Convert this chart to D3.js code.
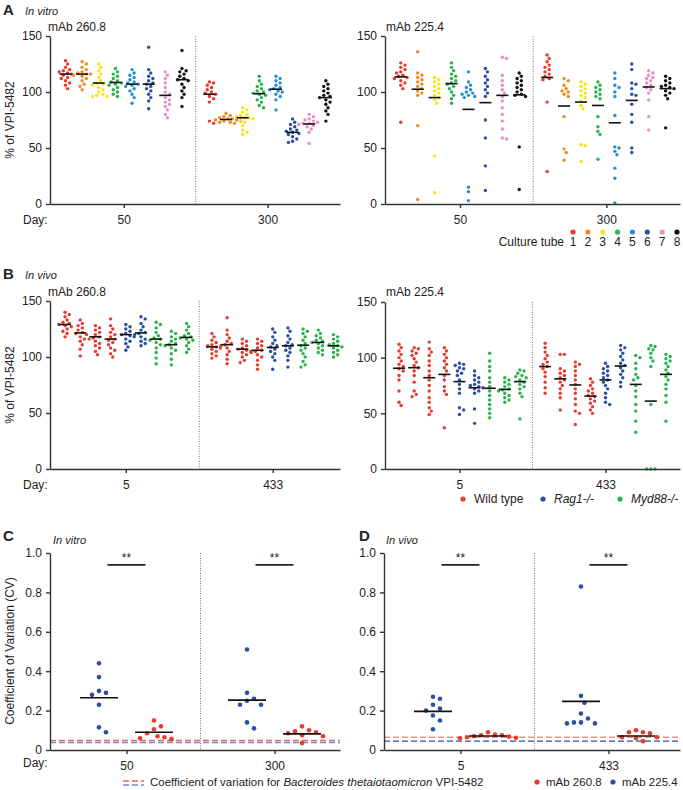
<!DOCTYPE html>
<html>
<head>
<meta charset="utf-8">
<script src="https://cdn.jsdelivr.net/npm/d3@7"></script>
<style>
  body { margin: 0; background: #fff; }
  svg { display: block; font-family: "Liberation Sans", Arial, sans-serif; }
  .tick text { font-size: 12px; fill: #222; }
  .domain, .tick line { stroke: #333; stroke-width: 1.4; }
</style>
</head>
<body>
<script>
// ---- colours ----
const tubeColors = ["#e63b2e", "#f08a24", "#f4e41c", "#2bb34b", "#2390d5", "#2d4fa0", "#e88fc6", "#111111"];
const genotypeColors = ["#e63b2e", "#e63b2e", "#e63b2e", "#e63b2e", "#2d4fa0", "#2d4fa0", "#2bb34b", "#2bb34b", "#2bb34b"];

// ---- A: in vitro, culture tubes 1-8 at day 50 then day 300 ----
const daysA = ["50", "300"];
const tubeLabels = ["1", "2", "3", "4", "5", "6", "7", "8"];
const vitro2608 = [
  [128, 125, 122, 120, 119, 118, 117, 116, 115, 113, 112, 110, 108, 106, 103],
  [127, 125, 122, 120, 118, 117, 116, 116, 115, 114, 112, 110, 107, 105, 102],
  [125, 122, 119, 116, 113, 110, 108, 107, 106, 104, 102, 100, 98, 97, 96, 96],
  [121, 118, 116, 114, 112, 110, 109, 108, 107, 106, 104, 102, 100, 98, 96],
  [120, 117, 115, 113, 111, 109, 108, 107, 106, 105, 103, 101, 98, 95, 90],
  [140, 120, 117, 114, 112, 110, 108, 107, 105, 103, 101, 98, 95, 92, 85],
  [118, 115, 112, 108, 104, 100, 98, 95, 93, 91, 89, 87, 84, 80, 77],
  [137, 121, 119, 118, 116, 114, 112, 111, 110, 107, 104, 101, 98, 95, 87],
  [109, 108, 106, 104, 102, 100, 99, 98, 96, 94, 91, 74, 72],
  [81, 79, 78, 77, 76, 76, 75, 75, 74, 74, 73, 73, 72],
  [86, 84, 82, 80, 79, 78, 77, 77, 76, 75, 73, 70, 66, 64, 62],
  [114, 110, 107, 105, 103, 101, 100, 99, 98, 97, 95, 93, 91, 88, 86],
  [114, 112, 110, 108, 106, 104, 103, 102, 101, 100, 98, 96, 93, 84],
  [76, 73, 71, 69, 67, 66, 65, 64, 63, 62, 60, 58, 56, 55],
  [80, 78, 76, 75, 74, 73, 72, 72, 71, 70, 69, 67, 64, 54],
  [110, 107, 105, 103, 101, 99, 97, 96, 95, 93, 91, 89, 86, 83, 80, 74]
];
const vitro2608Mid = [116, 116, 108, 108.5, 107, 107, 97, 111, 98, 75.5, 77, 98.5, 102.5, 64, 71.5, 95];
const vitro2254 = [
  [126, 124, 122, 120, 118, 117, 115, 114, 113, 112, 110, 108, 106, 103, 73],
  [136, 117, 115, 113, 111, 109, 107, 105, 103, 101, 99, 97, 70, 4],
  [113, 111, 109, 107, 105, 103, 101, 99, 97, 95, 93, 90, 43, 10],
  [126, 122, 119, 116, 114, 112, 110, 108, 107, 105, 103, 100, 97, 94, 90],
  [118, 109, 106, 104, 102, 100, 99, 98, 97, 96, 95, 15, 11, 3],
  [121, 118, 114, 111, 108, 105, 102, 99, 96, 75, 59, 34, 12],
  [131, 130, 115, 110, 106, 102, 99, 96, 92, 86, 80, 74, 67, 59, 58],
  [117, 114, 112, 110, 108, 106, 104, 102, 100, 98, 97, 96, 51, 13],
  [133, 130, 127, 124, 122, 120, 118, 116, 114, 112, 111, 91, 29],
  [112, 110, 106, 103, 101, 100, 98, 96, 78, 49, 46, 39],
  [109, 107, 105, 103, 101, 99, 97, 95, 92, 88, 85, 53, 52, 38],
  [109, 106, 104, 102, 100, 98, 96, 94, 78, 69, 65, 62, 40],
  [117, 112, 106, 104, 100, 96, 79, 51, 50, 47, 44, 32, 23, 1],
  [125, 120, 108, 107, 103, 98, 97, 89, 80, 73, 50, 46],
  [119, 117, 115, 113, 112, 110, 108, 106, 104, 102, 99, 93, 78, 66],
  [114, 112, 110, 108, 106, 105, 104, 103, 101, 99, 97, 94, 68]
];
const vitro2254Mid = [113.5, 102.5, 95, 107.5, 84.5, 90.5, 97, 97.5, 113, 87.5, 91, 88, 72.5, 92.5, 104.5, 103];

// ---- B: in vivo, 4 wild type, 2 Rag1-/-, 3 Myd88-/- mice at day 5 then day 433 ----
const daysB = ["5", "433"];
const vivo2608 = [
  [140, 138, 136, 133, 131, 130, 129, 128, 127, 125, 123, 121, 118],
  [133, 130, 128, 126, 124, 122, 121, 120, 118, 116, 114, 111, 107, 101],
  [128, 126, 124, 122, 120, 118, 117, 116, 114, 112, 110, 108, 105, 102],
  [134, 128, 125, 122, 120, 118, 116, 115, 113, 111, 108, 106, 103, 100],
  [129, 127, 125, 123, 121, 120, 119, 118, 116, 114, 112, 109, 106],
  [136, 134, 130, 127, 124, 122, 121, 120, 118, 116, 114, 112, 110],
  [131, 129, 126, 122, 119, 117, 116, 115, 113, 111, 108, 104, 99, 94],
  [123, 121, 118, 116, 114, 112, 111, 110, 108, 106, 103, 98, 93],
  [130, 127, 124, 121, 119, 118, 117, 116, 115, 113, 110, 107, 104],
  [121, 118, 115, 113, 111, 110, 109, 108, 107, 105, 103, 101, 99],
  [135, 124, 120, 117, 114, 112, 111, 110, 108, 105, 102, 98, 94],
  [116, 114, 112, 110, 108, 107, 106, 105, 104, 102, 100, 97, 95],
  [116, 114, 112, 110, 108, 106, 105, 104, 102, 100, 97, 93, 89],
  [125, 122, 118, 115, 112, 110, 109, 107, 105, 103, 100, 97, 89],
  [126, 123, 119, 116, 113, 111, 110, 108, 106, 104, 101, 97, 91],
  [125, 123, 121, 118, 115, 112, 110, 108, 106, 103, 100, 96, 93, 91],
  [124, 121, 119, 117, 115, 114, 113, 112, 110, 108, 106, 104, 102],
  [120, 118, 116, 114, 112, 111, 110, 109, 108, 106, 104, 102, 100]
];
const vivo2608Mid = [129, 121.5, 118, 116, 120, 121.5, 116, 111, 117.5, 109, 111, 107, 106, 108.5, 110, 110.5, 113, 110];
const vivo2254 = [
  [112, 109, 106, 103, 100, 97, 94, 92, 90, 88, 84, 80, 70, 60, 57],
  [109, 108, 106, 104, 102, 99, 96, 93, 91, 88, 84, 78, 70, 67, 65],
  [114, 108, 105, 102, 97, 93, 88, 84, 80, 75, 70, 64, 60, 55, 52, 49],
  [109, 106, 103, 100, 97, 94, 91, 88, 84, 80, 74, 70, 67, 37],
  [95, 94, 93, 91, 90, 88, 86, 84, 80, 76, 72, 68, 55, 53, 49],
  [88, 84, 82, 80, 78, 76, 75, 74, 73, 72, 70, 68, 54, 41],
  [104, 97, 92, 88, 82, 78, 74, 70, 66, 62, 58, 54, 50, 46],
  [82, 80, 78, 76, 74, 72, 71, 70, 68, 66, 64, 62, 60],
  [89, 88, 86, 84, 83, 82, 80, 78, 76, 74, 72, 68, 65, 45],
  [113, 109, 105, 102, 99, 96, 94, 92, 90, 87, 83, 78, 73, 68],
  [103, 103, 90, 88, 86, 84, 82, 80, 78, 75, 72, 68, 64, 53],
  [96, 94, 92, 88, 84, 80, 76, 72, 68, 63, 58, 52, 50, 40],
  [81, 78, 75, 72, 70, 68, 66, 65, 63, 61, 59, 56, 53, 50],
  [95, 92, 90, 88, 86, 84, 82, 80, 78, 75, 72, 68, 64, 60, 58],
  [111, 109, 107, 104, 101, 98, 95, 93, 91, 88, 85, 82, 78, 74],
  [102, 100, 95, 90, 85, 82, 80, 75, 70, 65, 58, 52, 43, 33],
  [111, 110, 108, 107, 104, 100, 97, 92, 58, 0, 0, 0],
  [103, 101, 99, 97, 95, 92, 89, 86, 83, 80, 76, 72, 66, 60, 43]
];
const vivo2254Mid = [90.5, 91, 82, 85, 78.5, 73, 72.5, 71.5, 78.5, 92, 81, 75.5, 65.5, 80, 92.5, 76, 61, 85];

// ---- C / D: coefficient of variation, mAb 225.4 then mAb 260.8 per day ----
const cvVitro = [
  [0.44, 0.37, 0.30, 0.29, 0.28, 0.23, 0.115, 0.09],
  [0.15, 0.12, 0.105, 0.085, 0.07, 0.065, 0.06, 0.055],
  [0.51, 0.29, 0.26, 0.25, 0.23, 0.23, 0.14, 0.11],
  [0.12, 0.10, 0.095, 0.09, 0.085, 0.075, 0.07, 0.035]
];
const cvVitroMid = [0.265, 0.09, 0.253, 0.082];
const cvVivo = [
  [0.27, 0.26, 0.23, 0.21, 0.20, 0.175, 0.15, 0.105],
  [0.09, 0.078, 0.075, 0.075, 0.07, 0.068, 0.065, 0.062, 0.06],
  [0.83, 0.275, 0.24, 0.185, 0.16, 0.14, 0.14, 0.135, 0.135],
  [0.10, 0.09, 0.09, 0.085, 0.065, 0.065, 0.06, 0.045]
];
const cvVivoMid = [0.196, 0.071, 0.247, 0.071];
const cvColors = ["#2d4fa0", "#e63b2e", "#2d4fa0", "#e63b2e"];
const cvVitroRef = [0.048, 0.038];   // mAb 260.8, mAb 225.4
const cvVivoRef = [0.065, 0.045];
const cvTicks = [0, 0.2, 0.4, 0.6, 0.8, 1.0];

const svg = d3.select("body").append("svg").attr("width", 683).attr("height", 790);

// simple beeswarm: returns horizontal offsets in the order of the values
function swarm(values, y, minDist, step) {
  const order = d3.range(values.length).sort((a, b) => values[b] - values[a]);
  const placed = [];
  const off = [];
  order.forEach(i => {
    const yi = y(values[i]);
    for (let k = 0; k < 60; k++) {
      const dx = (k % 2 ? 1 : -1) * Math.ceil(k / 2) * step;
      if (placed.every(p => Math.hypot(p.dx - dx, p.y - yi) >= minDist)) {
        off[i] = dx;
        placed.push({dx: dx, y: yi});
        break;
      }
    }
  });
  return off;
}

function dotPanel(cfg) {
  const g = svg.append("g");
  const x = d3.scaleLinear().domain(cfg.xDomain).range([cfg.x0, cfg.x1]);
  const y = d3.scaleLinear().domain(cfg.yDomain).range([cfg.yBottom, cfg.yTop]);
  const pos = i => (i % cfg.perDay) + Math.floor(i / cfg.perDay) * cfg.dayOffset;
  const dayCenters = cfg.days.map((d, k) => (cfg.perDay - 1) / 2 + k * cfg.dayOffset);

  // divider between days
  const divX = x((cfg.perDay - 1 + cfg.dayOffset) / 2);
  g.append("line")
    .attr("x1", divX).attr("x2", divX)
    .attr("y1", cfg.yTop).attr("y2", cfg.yBottom)
    .attr("stroke", "#777").attr("stroke-width", 1)
    .style("stroke-dasharray", "1,1.5");

  // reference dashed lines (CV panels)
  (cfg.refs || []).forEach(r => {
    g.append("line")
      .attr("x1", cfg.x0).attr("x2", cfg.x1)
      .attr("y1", y(r.value)).attr("y2", y(r.value))
      .attr("stroke", r.color).attr("stroke-width", 1.4)
      .style("stroke-dasharray", "6,3");
  });

  cfg.groups.forEach((vals, i) => {
    const cx = x(pos(i));
    const off = swarm(vals, y, cfg.minDist, cfg.step);
    g.append("g").selectAll("circle")
      .data(vals)
      .enter()
      .append("circle")
      .attr("cx", (d, j) => cx + off[j])
      .attr("cy", d => y(d))
      .attr("r", cfg.r)
      .attr("fill", cfg.colors[i]);
    g.append("line")
      .attr("x1", cx - cfg.meanHalf).attr("x2", cx + cfg.meanHalf)
      .attr("y1", y(cfg.mids[i])).attr("y2", y(cfg.mids[i]))
      .attr("stroke", "#111").attr("stroke-width", 1.6);
  });

  // significance bars
  if (cfg.stars) {
    dayCenters.forEach(c => {
      const bx = x(c);
      g.append("line")
        .attr("x1", bx - 19).attr("x2", bx + 19)
        .attr("y1", y(0.94)).attr("y2", y(0.94))
        .attr("stroke", "#222").attr("stroke-width", 1.8);
      g.append("text")
        .attr("x", bx).attr("y", y(0.94) - 3)
        .attr("text-anchor", "middle")
        .style("font-size", "12px").attr("fill", "#222")
        .text("**");
    });
  }

  g.append("g")
    .attr("transform", "translate(" + cfg.x0 + ",0)")
    .call(d3.axisLeft(y).tickValues(cfg.yTicks).tickFormat(cfg.yFormat).tickSize(4).tickSizeOuter(0))
    .call(a => a.selectAll(".tick text").attr("dx", "-1"));

  g.append("g")
    .attr("transform", "translate(0," + cfg.yBottom + ")")
    .call(d3.axisBottom(x).tickValues(dayCenters).tickFormat((d, k) => cfg.days[k]).tickSize(4).tickSizeOuter(0))
    .call(a => a.selectAll(".tick text").attr("dy", "1.05em"));
}

function text(x, y, str, opts) {
  opts = opts || {};
  const t = svg.append("text")
    .attr("x", x).attr("y", y)
    .attr("fill", "#222")
    .style("font-size", (opts.size || 12) + "px")
    .text(str);
  if (opts.bold) t.attr("font-weight", "bold");
  if (opts.italic) t.attr("font-style", "italic");
  if (opts.anchor) t.attr("text-anchor", opts.anchor);
  if (opts.rotate) t.attr("transform", "rotate(-90," + x + "," + y + ")");
  return t;
}

const fmtPct = d => d;
const fmtCv = d => d === 0 ? "0" : d3.format(".1f")(d);

// ---- panel A ----
dotPanel({x0: 50, x1: 340, yTop: 36, yBottom: 204, xDomain: [-0.93, 16.5], yDomain: [0, 150],
  yTicks: [0, 50, 100, 150], yFormat: fmtPct, perDay: 8, dayOffset: 8.65, days: daysA,
  groups: vitro2608, mids: vitro2608Mid, colors: tubeColors.concat(tubeColors),
  r: 1.7, minDist: 3.8, step: 2.1, meanHalf: 6});
dotPanel({x0: 385, x1: 680, yTop: 36, yBottom: 204, xDomain: [-0.93, 16.5], yDomain: [0, 150],
  yTicks: [0, 50, 100, 150], yFormat: fmtPct, perDay: 8, dayOffset: 8.65, days: daysA,
  groups: vitro2254, mids: vitro2254Mid, colors: tubeColors.concat(tubeColors),
  r: 1.7, minDist: 3.8, step: 2.1, meanHalf: 6});

text(3, 15, "A", {size: 15, bold: true});
text(25, 15, "In vitro", {size: 11, italic: true});
text(48, 31, "mAb 260.8");
text(386, 31, "mAb 225.4");
text(14, 120, "% of VPI-5482", {rotate: true, anchor: "middle"});
text(23, 224, "Day:");

// culture tube legend
const tubeX = d3.scalePoint().domain(tubeLabels).range([573, 677]);
svg.append("g").selectAll("circle").data(tubeLabels).enter().append("circle")
  .attr("cx", d => tubeX(d)).attr("cy", 232).attr("r", 2.6)
  .attr("fill", (d, i) => tubeColors[i]);
svg.append("g").selectAll("text").data(tubeLabels).enter().append("text")
  .attr("x", d => tubeX(d)).attr("y", 246).attr("text-anchor", "middle")
  .style("font-size", "12px").attr("fill", "#222").text(d => d);
text(564, 246, "Culture tube", {anchor: "end"});

// ---- panel B ----
dotPanel({x0: 50, x1: 340, yTop: 301, yBottom: 469, xDomain: [-0.99, 18.1], yDomain: [0, 150],
  yTicks: [0, 50, 100, 150], yFormat: fmtPct, perDay: 9, dayOffset: 9.67, days: daysB,
  groups: vivo2608, mids: vivo2608Mid, colors: genotypeColors.concat(genotypeColors),
  r: 1.7, minDist: 3.8, step: 2.1, meanHalf: 6});
dotPanel({x0: 385, x1: 680, yTop: 302, yBottom: 469, xDomain: [-0.93, 18.6], yDomain: [0, 150],
  yTicks: [0, 50, 100, 150], yFormat: fmtPct, perDay: 9, dayOffset: 9.67, days: daysB,
  groups: vivo2254, mids: vivo2254Mid, colors: genotypeColors.concat(genotypeColors),
  r: 1.7, minDist: 3.8, step: 2.1, meanHalf: 6});

text(3, 279, "B", {size: 15, bold: true});
text(25, 279, "In vivo", {size: 11, italic: true});
text(48, 296, "mAb 260.8");
text(386, 296, "mAb 225.4");
text(14, 385, "% of VPI-5482", {rotate: true, anchor: "middle"});
text(23, 489, "Day:");

// genotype legend
const genoLegend = [
  {label: "Wild type", color: "#e63b2e", x: 463, italic: false},
  {label: "Rag1-/-", color: "#2d4fa0", x: 543, italic: true},
  {label: "Myd88-/-", color: "#2bb34b", x: 620, italic: true}
];
genoLegend.forEach(l => {
  svg.append("circle").attr("cx", l.x).attr("cy", 499).attr("r", 2.6).attr("fill", l.color);
  text(l.x + 11, 503, l.label, {italic: l.italic});
});

// ---- panels C and D ----
dotPanel({x0: 50, x1: 340, yTop: 553, yBottom: 750, xDomain: [-0.89, 4.38], yDomain: [0, 1],
  yTicks: cvTicks, yFormat: fmtCv, perDay: 2, dayOffset: 2.69, days: daysA,
  groups: cvVitro, mids: cvVitroMid, colors: cvColors,
  r: 2.3, minDist: 7, step: 3.5, meanHalf: 19, stars: true,
  refs: [{value: cvVitroRef[0], color: "#e06a63"}, {value: cvVitroRef[1], color: "#7d88c6"}]});
dotPanel({x0: 384, x1: 680, yTop: 553, yBottom: 750, xDomain: [-0.89, 4.49], yDomain: [0, 1],
  yTicks: cvTicks, yFormat: fmtCv, perDay: 2, dayOffset: 2.69, days: daysB,
  groups: cvVivo, mids: cvVivoMid, colors: cvColors,
  r: 2.3, minDist: 7, step: 3.5, meanHalf: 19, stars: true,
  refs: [{value: cvVivoRef[0], color: "#eb9a82"}, {value: cvVivoRef[1], color: "#2d4fa0"}]});

text(3, 541, "C", {size: 15, bold: true});
text(53, 544, "In vitro", {size: 11, italic: true});
text(359, 541, "D", {size: 15, bold: true});
text(386, 544, "In vivo", {size: 11, italic: true});
text(14, 651, "Coefficient of Variation (CV)", {rotate: true, anchor: "middle"});
text(23, 767, "Day:");

// bottom legend
svg.append("line").attr("x1", 123).attr("x2", 144).attr("y1", 781).attr("y2", 781)
  .attr("stroke", "#e06a63").attr("stroke-width", 1.4).style("stroke-dasharray", "6,3");
svg.append("line").attr("x1", 123).attr("x2", 144).attr("y1", 785).attr("y2", 785)
  .attr("stroke", "#7d88c6").attr("stroke-width", 1.4).style("stroke-dasharray", "6,3");
const cvText = text(150, 786, "Coefficient of variation for ", {size: 11.5});
cvText.append("tspan").attr("font-style", "italic").text("Bacteroides thetaiotaomicron");
cvText.append("tspan").text(" VPI-5482");

const mabLegend = [
  {label: "mAb 260.8", color: "#e63b2e", x: 537},
  {label: "mAb 225.4", color: "#2d4fa0", x: 613}
];
mabLegend.forEach(l => {
  svg.append("circle").attr("cx", l.x).attr("cy", 782).attr("r", 2.6).attr("fill", l.color);
  text(l.x + 9, 786, l.label, {size: 11.5});
});
</script>
</body>
</html>
